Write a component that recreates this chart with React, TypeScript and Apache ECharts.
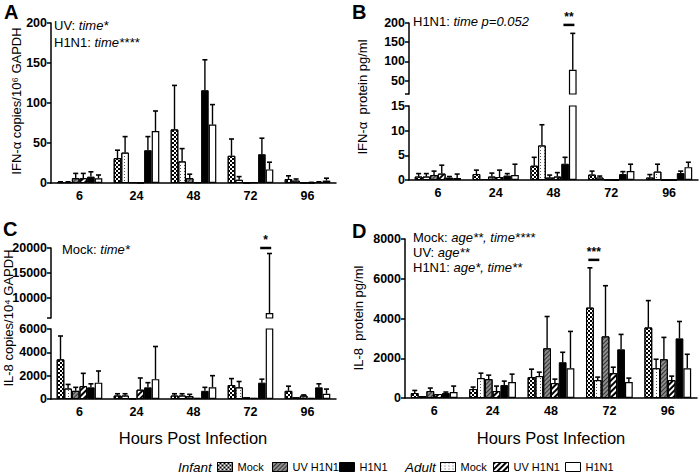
import React, { useEffect, useRef } from 'react';
import * as echarts from 'echarts';

const FONT = '"Liberation Sans", Arial, Helvetica, sans-serif';

// categories
const hours = ['6', '24', '48', '72', '96'];
// bar order inside each group
const groupNames = ['Infant Mock', 'Adult Mock', 'Infant UV H1N1', 'Adult UV H1N1', 'Infant H1N1', 'Adult H1N1'];

// Panel A: IFN-α copies/10^6 GAPDH (rows follow groupNames)
const aMeans = [
  [1, 31, 67, 34, 5],
  [1, 38, 27, 4, 3],
  [6, 1, 6, 0.3, 0.5],
  [6, 0.5, 1, 1, 0.5],
  [8, 41, 116, 36, 1],
  [6, 65, 73, 17, 3],
];
const aSd = [
  [0.5, 10, 55, 21, 4],
  [0.5, 20, 16, 4, 2],
  [6, 0, 5, 0, 0],
  [6, 0, 0, 0, 0.3],
  [6, 17, 38, 20, 0.5],
  [4, 25, 25, 9, 3],
];

// Panel B: IFN-α protein pg/ml
const bMeans = [
  [0.7, 1.2, 2.9, 1.1, 0.5],
  [0.7, 0.2, 7, 0.5, 1.7],
  [1, 0.7, 0.5, 0.1, 0],
  [1.3, 0.6, 0.7, 0, 0],
  [0.5, 0.9, 3.3, 1.2, 1.4],
  [0.4, 1.0, 78, 1.8, 2.6],
];
const bSd = [
  [0.6, 0.8, 1.7, 0.7, 0.6],
  [0.6, 0, 4.2, 0.3, 1.5],
  [0.8, 0.7, 0.5, 0, 0],
  [1.7, 1.4, 0.8, 0, 0],
  [0.2, 0.4, 1.3, 0.5, 0.4],
  [0.8, 2.2, 95, 1.4, 1.0],
];

// Panel C: IL-8 copies/10^4 GAPDH
const cMeans = [
  [3400, 300, 300, 1200, 700],
  [900, 300, 300, 1000, 150],
  [700, 50, 250, 150, 300],
  [1100, 800, 100, 100, 100],
  [1000, 1000, 700, 1400, 1000],
  [1400, 1700, 1000, 7000, 450],
];
const cSd = [
  [2000, 150, 150, 550, 400],
  [350, 150, 150, 500, 0],
  [300, 0, 150, 0, 50],
  [1100, 1000, 0, 0, 0],
  [300, 400, 300, 300, 300],
  [1000, 2800, 1000, 11900, 400],
];

// Panel D: IL-8 protein pg/ml
const dMeans = [
  [250, 450, 1050, 4550, 3550],
  [100, 1000, 1100, 900, 1500],
  [350, 950, 2500, 3100, 1950],
  [200, 350, 750, 1250, 900],
  [250, 650, 1800, 2450, 3000],
  [300, 800, 1500, 800, 1500],
];
const dSd = [
  [130, 100, 400, 2000, 1350],
  [0, 250, 200, 150, 450],
  [150, 200, 1600, 2550, 1100],
  [0, 250, 200, 300, 200],
  [50, 200, 500, 750, 850],
  [300, 400, 1850, 200, 700],
];

// tick labels
const aTicks = [0, 50, 100, 150, 200];
const bUpperTicks = [50, 100, 150, 200];
const bLowerTicks = [0, 5, 10, 15];
const cUpperTicks = [10000, 15000, 20000];
const cLowerTicks = [0, 2000, 4000, 6000];
const dTicks = [0, 2000, 4000, 6000, 8000];

const checker = { symbol: 'rect', symbolSize: 1, color: '#000', backgroundColor: '#fff', dashArrayX: [[2, 2], [0, 2, 2, 0]], dashArrayY: [2, 0] };
const dots = { symbol: 'rect', symbolSize: 1, color: '#555', dashArrayX: [1, 3], dashArrayY: [1, 2] };
const darkHatch = { symbol: 'rect', symbolSize: 1, color: '#333', dashArrayX: [1, 0], dashArrayY: [1, 2], rotation: -Math.PI / 4 };
const lightHatch = { symbol: 'rect', symbolSize: 1, color: '#000', dashArrayX: [1, 0], dashArrayY: [1.5, 2], rotation: -Math.PI / 4 };

const barStyles: any[] = [
  { color: '#fff', borderColor: '#000', borderWidth: 1, decal: checker },
  { color: '#fff', borderColor: '#000', borderWidth: 1, decal: dots },
  { color: '#8c8c8c', borderColor: '#000', borderWidth: 1, decal: darkHatch },
  { color: '#fff', borderColor: '#000', borderWidth: 1, decal: lightHatch },
  { color: '#000', borderColor: '#000', borderWidth: 1 },
  { color: '#fff', borderColor: '#000', borderWidth: 1.2 },
];

const GROUP_FRAC = 0.8;

function xAxis(g: number, visible: boolean) {
  return {
    type: 'category', gridIndex: g, data: hours, show: visible,
    axisLine: { onZero: false, lineStyle: { color: '#000', width: 1.5 } },
    axisTick: { alignWithLabel: true, length: 4, lineStyle: { color: '#000', width: 1.5 } },
    axisLabel: { color: '#000', fontWeight: 'bold', fontSize: 12.5, margin: 6, fontFamily: FONT },
    splitLine: { show: false },
  };
}

function yAxis(g: number, min: number, max: number, labels: number[], ticks: number[]) {
  return {
    type: 'value', gridIndex: g, min, max,
    axisLine: { show: true, lineStyle: { color: '#000', width: 1.5 } },
    axisTick: { show: true, length: 4, lineStyle: { color: '#000', width: 1.5 }, customValues: ticks },
    axisLabel: {
      color: '#000', fontWeight: 'bold', fontSize: 12.5, margin: 4, fontFamily: FONT, customValues: labels,
      formatter: (v: number) => String(v),
    },
    splitLine: { show: false },
  };
}

function bars(g: number, means: number[][], lowCut: number | null) {
  return means.map((row, si) => ({
    type: 'bar', name: groupNames[si], xAxisIndex: g, yAxisIndex: g,
    data: row.map((v) => (lowCut != null && v <= lowCut ? null : v)),
    barGap: '0%', barCategoryGap: '20%',
    itemStyle: barStyles[si], z: 2, silent: true,
  }));
}

function errors(g: number, means: number[][], sd: number[][]) {
  const data: number[][] = [];
  means.forEach((row, si) => row.forEach((v, ci) => { if (sd[si][ci] > 0) data.push([ci, si, v, sd[si][ci]]); }));
  return {
    type: 'custom', xAxisIndex: g, yAxisIndex: g, z: 5, silent: true,
    encode: { x: 0, y: 2 },
    data,
    renderItem: (params: any, api: any) => {
      const ci = api.value(0), si = api.value(1), v = api.value(2), e = api.value(3);
      const cs = params.coordSys;
      const center = api.coord([ci, 0])[0];
      const band = api.size([1, 0])[0];
      const gw = band * GROUP_FRAC, bw = gw / 6;
      const x = center - gw / 2 + (si + 0.5) * bw;
      const y1 = api.coord([ci, v])[1];
      const y2 = api.coord([ci, v + e])[1];
      const top = cs.y, bot = cs.y + cs.height;
      const yb = Math.min(y1, bot), yt = Math.max(y2, top);
      if (yt >= yb) return null;
      const children: any[] = [
        { type: 'line', shape: { x1: x, y1: yb, x2: x, y2: yt }, style: { stroke: '#000', lineWidth: 1.4 } },
      ];
      if (y2 >= top) children.push({ type: 'line', shape: { x1: x - 2.5, y1: y2, x2: x + 2.5, y2: y2 }, style: { stroke: '#000', lineWidth: 1.6 } });
      return { type: 'group', children };
    },
  };
}

const grids = [
  { left: 51, top: 23, width: 285, height: 160 },   // 0 A
  { left: 409, top: 23, width: 289, height: 71 },   // 1 B upper
  { left: 409, top: 106, width: 289, height: 74 },  // 2 B lower
  { left: 51, top: 248, width: 285, height: 70 },   // 3 C upper
  { left: 51, top: 329, width: 285, height: 70 },   // 4 C lower
  { left: 405, top: 239, width: 292, height: 159 }, // 5 D
];

function legendItem(name: string, left: number) {
  return {
    show: true, data: [name], left, top: 461, padding: 0, icon: 'rect',
    itemWidth: 15, itemHeight: 9, selectedMode: false, orient: 'horizontal',
    formatter: (n: string) => n.replace(/^(Infant|Adult) /, ''),
    textStyle: { color: '#000', fontSize: 11, fontFamily: FONT, lineHeight: 12 },
    itemStyle: { borderColor: '#000', borderWidth: 1 },
  };
}

function txt(x: number, y: number, text: string, extra: any = {}, rot = 0): any {
  return {
    type: 'text', x, y, rotation: rot, silent: true,
    style: { text, fill: '#000', fontFamily: FONT, fontSize: 13, textVerticalAlign: 'middle', ...extra },
  };
}
const italicRich = { i: { fontStyle: 'italic', fontSize: 13, fontFamily: FONT, fill: '#000' } };

export default function App() {
  const ref = useRef<HTMLDivElement>(null);
  useEffect(() => {
    if (!ref.current) return;
    const chart = echarts.init(ref.current, null, { renderer: 'svg' });
    const option: any = {
      animation: false,
      backgroundColor: '#fff',
      grid: grids.map((g) => ({ ...g, containLabel: false, show: false })),
      xAxis: [xAxis(0, true), xAxis(1, false), xAxis(2, true), xAxis(3, false), xAxis(4, true), xAxis(5, true)],
      yAxis: [
        { ...yAxis(0, 0, 200, aTicks, aTicks), interval: 50 },
        yAxis(1, 15, 200, bUpperTicks, [15, ...bUpperTicks]),
        { ...yAxis(2, 0, 15, bLowerTicks, bLowerTicks), interval: 5 },
        yAxis(3, 6000, 20000, cUpperTicks, [6000, ...cUpperTicks]),
        { ...yAxis(4, 0, 6000, cLowerTicks, cLowerTicks), interval: 2000 },
        { ...yAxis(5, 0, 8000, dTicks, dTicks), interval: 2000 },
      ],
      legend: [
        legendItem('Infant Mock', 217),
        legendItem('Infant UV H1N1', 272),
        legendItem('Infant H1N1', 339),
        legendItem('Adult Mock', 440),
        legendItem('Adult UV H1N1', 493),
        legendItem('Adult H1N1', 565),
      ],
      series: [
        ...bars(0, aMeans, null), errors(0, aMeans, aSd),
        ...bars(1, bMeans, 15), errors(1, bMeans, bSd),
        ...bars(2, bMeans, null), errors(2, bMeans, bSd),
        ...bars(3, cMeans, 6000), errors(3, cMeans, cSd),
        ...bars(4, cMeans, null), errors(4, cMeans, cSd),
        ...bars(5, dMeans, null), errors(5, dMeans, dSd),
      ],
    };
    chart.setOption(option);

    // significance brackets located from the axes
    const bracket = (grid: number, cat: number, barBoundary: number, yVal: number, stars: string, id: string) => {
      const p0 = chart.convertToPixel({ gridIndex: grid }, [0, yVal]) as number[];
      const p1 = chart.convertToPixel({ gridIndex: grid }, [1, yVal]) as number[];
      const band = p1[0] - p0[0];
      const c = chart.convertToPixel({ gridIndex: grid }, [cat, yVal]) as number[];
      const gw = band * GROUP_FRAC;
      const x = c[0] - gw / 2 + barBoundary * (gw / 6);
      const y = c[1];
      return [
        { type: 'line', id: id + 'l', silent: true, shape: { x1: x - 5.5, y1: y, x2: x + 5.5, y2: y }, style: { stroke: '#000', lineWidth: 2.5 } },
        { type: 'text', id: id + 't', silent: true, x, y: y - 2, style: { text: stars, fill: '#000', fontFamily: FONT, fontSize: 12, fontWeight: 'bold', textAlign: 'center', textVerticalAlign: 'bottom' } },
      ];
    };

    const graphics: any[] = [
      // panel letters
      txt(4, 12, 'A', { fontSize: 20, fontWeight: 'bold' }),
      txt(352, 12, 'B', { fontSize: 20, fontWeight: 'bold' }),
      txt(3, 229, 'C', { fontSize: 20, fontWeight: 'bold' }),
      txt(352, 231, 'D', { fontSize: 20, fontWeight: 'bold' }),
      // axis titles
      txt(16, 101, 'IFN-α copies/10⁶ GAPDH', { textAlign: 'center' }, Math.PI / 2),
      txt(362, 97, 'IFN-α  protein pg/ml', { textAlign: 'center' }, Math.PI / 2),
      txt(8, 318, 'IL-8 copies/10⁴ GAPDH', { textAlign: 'center' }, Math.PI / 2),
      txt(358, 318, 'IL-8  protein pg/ml', { textAlign: 'center' }, Math.PI / 2),
      // statistics notes
      txt(54, 25, 'UV: {i|time*}', { rich: italicRich }),
      txt(54, 42, 'H1N1: {i|time****}', { rich: italicRich }),
      txt(413, 21, 'H1N1: {i|time p=0.052}', { rich: italicRich }),
      txt(62, 249, 'Mock: {i|time*}', { rich: italicRich }),
      txt(413, 237, 'Mock: {i|age**, time****}', { rich: italicRich }),
      txt(413, 252, 'UV: {i|age**}', { rich: italicRich }),
      txt(413, 267, 'H1N1: {i|age*, time**}', { rich: italicRich }),
      // x titles
      txt(193, 438, 'Hours Post Infection', { fontSize: 16.5, textAlign: 'center' }),
      txt(551, 438, 'Hours Post Infection', { fontSize: 16.5, textAlign: 'center' }),
      // legend group labels
      txt(178, 467, 'Infant', { fontSize: 13.5, fontStyle: 'italic' }),
      txt(405, 467, 'Adult', { fontSize: 13.5, fontStyle: 'italic' }),
      ...bracket(1, 2, 5, 195, '**', 'sb'),
      ...bracket(3, 3, 5, 20000, '*', 'sc'),
      ...bracket(5, 3, 1, 6950, '***', 'sd'),
    ];
    chart.setOption({ graphic: graphics });
    return () => chart.dispose();
  }, []);
  return <div ref={ref} style={{ position: 'absolute', left: 0, top: 0, width: 700, height: 474 }} />;
}
